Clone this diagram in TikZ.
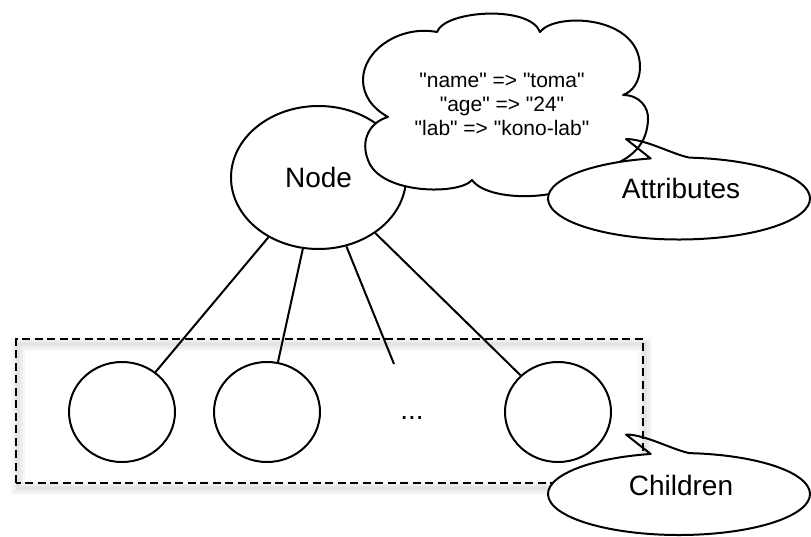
\documentclass[tikz,border=0pt]{standalone}
\usepackage{fontspec}
\setmainfont{Liberation Sans}[Ligatures=TeXOff]
\usetikzlibrary{shapes.geometric}
\begin{document}
\begin{tikzpicture}[x=1pt,y=1pt,
  shape line/.style={draw=black, line width=2pt},
  round node/.style={ellipse, draw=black, line width=2pt, fill=white, inner sep=0pt},
  lbl/.style={font=\fontsize{28}{34}\selectfont, inner sep=0pt},
  attr/.style={font=\fontsize{21}{24}\selectfont, inner sep=0pt, anchor=base},
  edge line/.style={draw=black, line width=2pt},
  dashed box/.style={draw=black, line width=2pt, dash pattern=on 8pt off 4.5pt},
  soft shadow/.style={draw=black, line width=#1}
]
\useasboundingbox (0,0) rectangle (811,536);

% group box with soft shadow
\coordinate (gsw) at (16,53);
\coordinate (gne) at (643,197);
\foreach \w/\o in {14/0.03, 9/0.035, 4/0.045}{
  \draw[soft shadow=\w pt, opacity=\o] ([shift={(2,-5)}]gsw) rectangle ([shift={(2,-5)}]gne);
}
\draw[dashed box] (gsw) rectangle (gne);

% nodes
\node[round node, minimum width=175pt, minimum height=143pt, lbl] (root) at (318.5,358.5) {Node};
\node[round node, minimum width=106pt, minimum height=100pt] (c1) at (122,124) {};
\node[round node, minimum width=106pt, minimum height=100pt] (c2) at (267,124) {};
\node[round node, minimum width=106pt, minimum height=100pt] (c3) at (558,124) {};
\coordinate (cdots) at (394,172);
\node[lbl, anchor=base] (dots) at (412,117) {...};

% edges
\draw[edge line] (root) -- (c1);
\draw[edge line] (root) -- (c2);
\draw[edge line] (root) -- (cdots);
\draw[edge line] (root) -- (c3);

% cloud
\draw[shape line, fill=white, line join=round]
  (388,419) .. controls (372,428) and (363,441) .. (363,456)
  .. controls (363,486) and (400,511) .. (437,504)
  .. controls (445,526) and (530,531) .. (540,504)
  .. controls (555,524) and (640,521) .. (640,469)
  .. controls (640,454) and (632,444) .. (623,441)
  .. controls (640,441) and (649,428) .. (648,416)
  .. controls (647,396) and (637,374) .. (590,364)
  .. controls (580,336) and (490,331) .. (472,356)
  .. controls (460,341) and (380,341) .. (368,376)
  .. controls (360,396) and (370,414) .. (388,419) -- cycle;
\node[attr] (k1) at (502,448) {"name" => "toma"};
\node[attr] (k2) at (502,424) {"age" => "24"};
\node[attr] (k3) at (502,400) {"lab" => "kono-lab"};

% callouts
\coordinate (ca) at (679,337.5);
\coordinate (cc) at (679,42);
\foreach \c in {ca,cc}{
  \fill[white] (\c) ellipse [x radius=131, y radius=41];
  \draw[shape line, line join=round]
    ([shift={(102.5:131 and 41)}]\c) arc[start angle=102.5, end angle=445.5, x radius=131, y radius=41]
    .. controls ([shift={(-7,44.5)}]\c) and ([shift={(-34,59.5)}]\c) .. ([shift={(-53,59.5)}]\c) -- cycle;
}
\node[lbl, anchor=base] (attrlbl) at (681,337) {Attributes};
\node[lbl, anchor=base] (chlbl) at (681,41) {Children};
\end{tikzpicture}
\end{document}
